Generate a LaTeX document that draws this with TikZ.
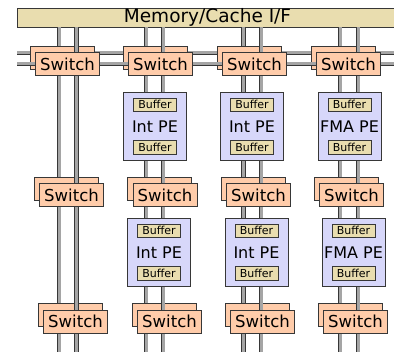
\documentclass[tikz,border=0pt]{standalone}
\usepackage{fontspec}
\setmainfont{DejaVu Sans}
\usepackage{tikz}
\usetikzlibrary{positioning}

\definecolor{memtan}{RGB}{233,221,175}
\definecolor{swsalmon}{RGB}{255,204,170}
\definecolor{pelilac}{RGB}{215,215,250}
\definecolor{busgray}{RGB}{165,165,165}
\definecolor{edgegray}{RGB}{55,55,55}

\begin{document}
\begin{tikzpicture}[
  x=1pt, y=-1pt,
  box/.style={draw=edgegray, line width=0.8pt, inner sep=0pt, text centered},
  membar/.style={box, fill=memtan, minimum width=381pt, minimum height=19pt, font=\fontsize{18.5}{20}\selectfont},
  switchbox/.style={box, fill=swsalmon, minimum width=64pt, minimum height=23pt, font=\fontsize{16.5}{18}\selectfont},
  pebox/.style={box, fill=pelilac, minimum width=63pt, minimum height=68pt, font=\fontsize{16}{18}\selectfont},
  bufbox/.style={box, fill=memtan, minimum width=43pt, minimum height=13.5pt, font=\fontsize{11}{12}\selectfont},
  bus/.style={draw=edgegray, line width=0.75pt, double=busgray, double distance=3pt},
]
\useasboundingbox (0,0) rectangle (394,352);

%% Memory interface
\node[membar] (mem) at (207.5,17.5) {Memory/Cache I/F};

%% Wire ends
\coordinate (a1) at (59,356);   \coordinate (b1) at (76.5,356);
\coordinate (a2) at (146,356);  \coordinate (b2) at (163,356);
\coordinate (a3) at (243.5,356);\coordinate (b3) at (261,356);
\coordinate (a4) at (340,356);  \coordinate (b4) at (358,356);
\coordinate (ha) at (17,53);    \coordinate (haend) at (398,53);
\coordinate (hb) at (17,64);    \coordinate (hbend) at (398,64);

%% Switch centres
\coordinate (s11) at (67.5,64);   \coordinate (s12) at (160.5,64);
\coordinate (s13) at (254.5,64);  \coordinate (s14) at (348.5,64);
\coordinate (s21) at (71.5,195);  \coordinate (s22) at (165,195);
\coordinate (s23) at (258.5,195); \coordinate (s24) at (351.5,195);
\coordinate (s31) at (75.5,321.5);  \coordinate (s32) at (169.5,321.5);
\coordinate (s33) at (262.5,321.5); \coordinate (s34) at (355.5,321.5);

%% Network A wires
\draw[bus] (a1 |- mem.south) -- (a1);
\draw[bus] (a2 |- mem.south) -- (a2);
\draw[bus] (a3 |- mem.south) -- (a3);
\draw[bus] (a4 |- mem.south) -- (a4);
\draw[bus] (ha) -- (haend);

%% Network A switches
\node[switchbox] (sw11b) at ([xshift=-5.5pt,yshift=6.5pt]s11) {};
\node[switchbox] (sw12b) at ([xshift=-5.5pt,yshift=6.5pt]s12) {};
\node[switchbox] (sw13b) at ([xshift=-5.5pt,yshift=6.5pt]s13) {};
\node[switchbox] (sw14b) at ([xshift=-5.5pt,yshift=6.5pt]s14) {};
\node[switchbox] (sw21b) at ([xshift=-5.5pt,yshift=6.5pt]s21) {};
\node[switchbox] (sw22b) at ([xshift=-5.5pt,yshift=6.5pt]s22) {};
\node[switchbox] (sw23b) at ([xshift=-5.5pt,yshift=6.5pt]s23) {};
\node[switchbox] (sw24b) at ([xshift=-5.5pt,yshift=6.5pt]s24) {};
\node[switchbox] (sw31b) at ([xshift=-5.5pt,yshift=6.5pt]s31) {};
\node[switchbox] (sw32b) at ([xshift=-5.5pt,yshift=6.5pt]s32) {};
\node[switchbox] (sw33b) at ([xshift=-5.5pt,yshift=6.5pt]s33) {};
\node[switchbox] (sw34b) at ([xshift=-5.5pt,yshift=6.5pt]s34) {};

%% Network B wires
\draw[bus] (b1 |- mem.south) -- (b1);
\draw[bus] (b2 |- mem.south) -- (b2);
\draw[bus] (b3 |- mem.south) -- (b3);
\draw[bus] (b4 |- mem.south) -- (b4);
\draw[bus] (hb) -- (hbend);

%% Network B switches
\node[switchbox] (sw11) at (s11) {Switch};
\node[switchbox] (sw12) at (s12) {Switch};
\node[switchbox] (sw13) at (s13) {Switch};
\node[switchbox] (sw14) at (s14) {Switch};
\node[switchbox] (sw21) at (s21) {Switch};
\node[switchbox] (sw22) at (s22) {Switch};
\node[switchbox] (sw23) at (s23) {Switch};
\node[switchbox] (sw24) at (s24) {Switch};
\node[switchbox] (sw31) at (s31) {Switch};
\node[switchbox] (sw32) at (s32) {Switch};
\node[switchbox] (sw33) at (s33) {Switch};
\node[switchbox] (sw34) at (s34) {Switch};

%% Processing elements, upper row
\node[pebox] (pe12) at (155,126.5) {Int PE};
\node[bufbox, below=5.5pt of pe12.north] (pe12in) {Buffer};
\node[bufbox, above=6.5pt of pe12.south] (pe12out) {Buffer};
\node[pebox] (pe13) at (252,126.5) {Int PE};
\node[bufbox, below=5.5pt of pe13.north] (pe13in) {Buffer};
\node[bufbox, above=6.5pt of pe13.south] (pe13out) {Buffer};
\node[pebox] (pe14) at (349.5,126.5) {FMA PE};
\node[bufbox, below=5.5pt of pe14.north] (pe14in) {Buffer};
\node[bufbox, above=6.5pt of pe14.south] (pe14out) {Buffer};

%% Processing elements, lower row
\node[pebox] (pe22) at (159,252.5) {Int PE};
\node[bufbox, below=5.5pt of pe22.north] (pe22in) {Buffer};
\node[bufbox, above=6.5pt of pe22.south] (pe22out) {Buffer};
\node[pebox] (pe23) at (256.5,252.5) {Int PE};
\node[bufbox, below=5.5pt of pe23.north] (pe23in) {Buffer};
\node[bufbox, above=6.5pt of pe23.south] (pe23out) {Buffer};
\node[pebox] (pe24) at (353.5,252.5) {FMA PE};
\node[bufbox, below=5.5pt of pe24.north] (pe24in) {Buffer};
\node[bufbox, above=6.5pt of pe24.south] (pe24out) {Buffer};

\end{tikzpicture}
\end{document}
